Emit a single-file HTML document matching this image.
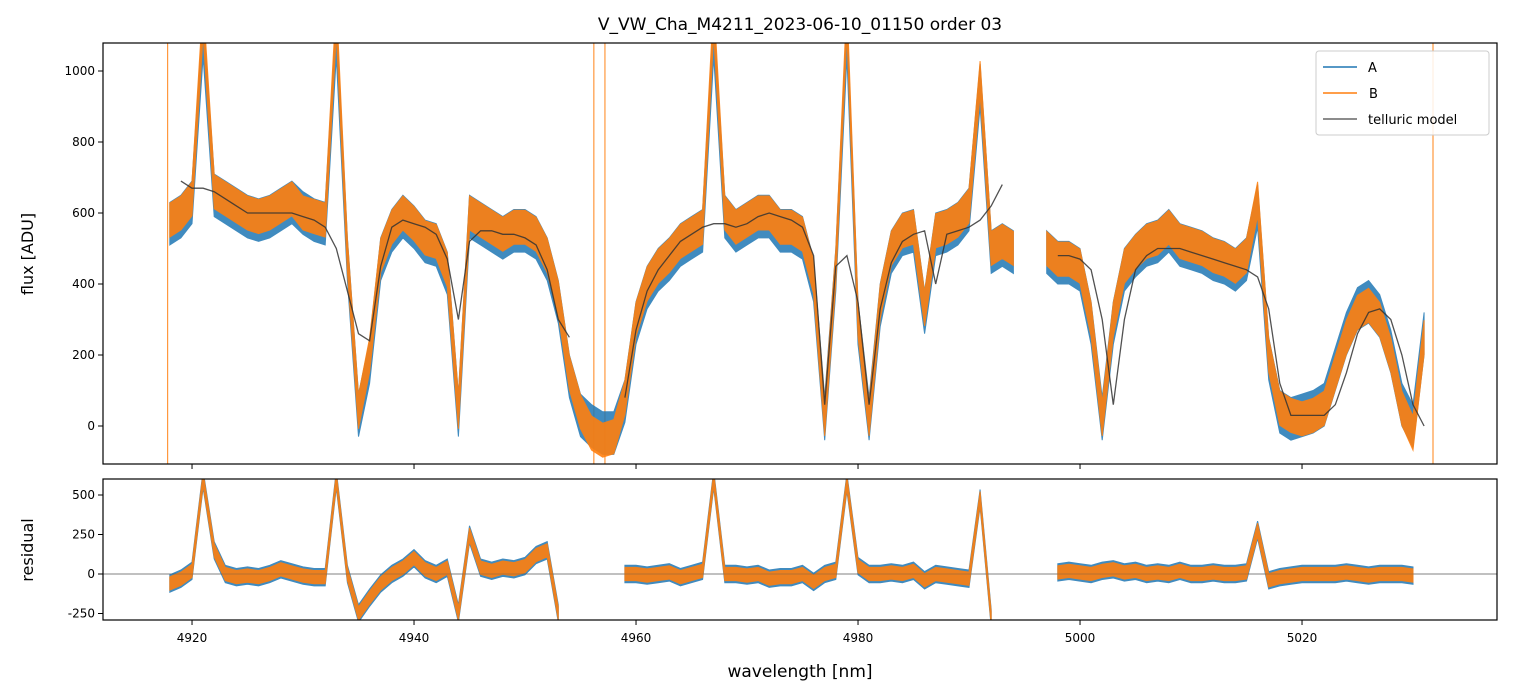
<!DOCTYPE html>
<html><head><meta charset="utf-8">
<style>
body{margin:0;background:#fff;}
svg{display:block;font-family:"DejaVu Sans","Liberation Sans",sans-serif;}
</style></head>
<body>
<svg id="chart" width="1513" height="696" viewBox="0 0 1513 696" xmlns="http://www.w3.org/2000/svg">
<defs>
<clipPath id="ctop"><rect x="103" y="43" width="1394" height="421"/></clipPath>
<clipPath id="cbot"><rect x="103" y="479" width="1394" height="141"/></clipPath>
</defs>
<rect width="1513" height="696" fill="#fff"/>
<text x="800" y="30" font-size="17" text-anchor="middle">V_VW_Cha_M4211_2023-06-10_01150  order 03</text>
<g id="topPanel" clip-path="url(#ctop)"></g>
<g id="botPanel" clip-path="url(#cbot)"></g>
<rect x="103" y="43" width="1394" height="421" fill="none" stroke="#000" stroke-width="1.2"/>
<rect x="103" y="479" width="1394" height="141" fill="none" stroke="#000" stroke-width="1.2"/>
<g id="axesG"></g>
<text x="0" y="0" font-size="16" text-anchor="middle" transform="translate(33,254) rotate(-90)">flux [ADU]</text>
<text x="0" y="0" font-size="16" text-anchor="middle" transform="translate(33,550) rotate(-90)">residual</text>
<text x="800" y="677" font-size="17" text-anchor="middle">wavelength [nm]</text>
<g>
<rect x="1316" y="51" width="173" height="84" rx="3" fill="#fff" fill-opacity="0.85" stroke="#ccc"/>
<line x1="1323" y1="67" x2="1357" y2="67" stroke="#1f77b4" stroke-width="1.6"/>
<text x="1368" y="72" font-size="13">A</text>
<line x1="1323" y1="93" x2="1357" y2="93" stroke="#ff7f0e" stroke-width="1.6"/>
<text x="1369" y="98" font-size="13">B</text>
<line x1="1323" y1="119" x2="1357" y2="119" stroke="#666" stroke-width="1.6"/>
<text x="1368" y="124" font-size="13">telluric model</text>
</g>
</svg>
<script>
const wl0 = 4918;
const fluxB = [580,600,640,1150,660,640,620,600,590,600,620,640,600,590,580,1150,480,40,200,480,560,600,570,530,520,440,40,600,580,560,540,560,560,540,480,360,150,40,-20,-40,-30,80,300,400,450,480,520,540,560,1150,600,560,580,600,600,560,560,540,420,20,450,1150,300,20,350,500,550,560,330,550,560,580,620,980,500,520,500,null,null,500,470,470,450,300,20,300,450,490,520,530,560,520,510,500,480,470,450,480,640,200,50,30,20,30,50,150,250,320,340,300,200,50,-20,250];
const fluxA = [570,590,630,1100,650,630,610,590,580,590,610,630,600,580,570,1100,470,30,180,470,550,590,560,520,510,430,30,590,570,550,530,550,550,530,470,350,140,30,0,-20,-20,70,290,390,440,470,510,530,550,1100,590,550,570,590,590,550,550,530,410,20,440,1100,290,20,340,490,540,550,320,540,550,570,610,960,490,510,490,null,null,490,460,460,440,290,20,290,440,480,510,520,550,510,500,490,470,460,440,470,620,190,40,20,30,40,60,160,260,330,350,310,210,60,0,260];
const model = [null,690,670,670,660,640,620,600,600,600,600,600,590,580,560,500,380,260,240,450,560,580,570,560,540,470,300,520,550,550,540,540,530,510,440,300,250,null,null,null,null,80,270,380,440,480,520,540,560,570,570,560,570,590,600,590,580,560,480,60,450,480,350,60,330,460,520,540,550,400,540,550,560,580,620,680,null,null,null,null,480,480,470,440,300,60,300,440,480,500,500,500,490,480,470,460,450,440,420,330,120,30,30,30,30,60,150,260,320,330,300,200,60,0,null];
const resid = [-60,-30,20,600,150,0,-20,-10,-20,0,30,10,-10,-20,-20,600,0,-250,-150,-60,0,40,100,30,0,40,-250,250,40,20,40,30,50,120,150,-250,null,null,null,null,null,0,0,-10,0,10,-20,0,20,600,0,0,-10,0,-30,-20,-20,0,-50,0,20,580,50,0,0,10,0,20,-40,0,-10,-20,-30,480,-280,null,null,null,null,null,10,20,10,0,20,30,10,20,0,10,0,20,0,0,10,0,0,10,280,-40,-20,-10,0,0,0,0,10,0,-10,0,0,0,-10,null];
const spikeWl = [4917.8, 4956.2, 4957.2, 5031.8];
const xTicks = [4920,4940,4960,4980,5000,5020];
const yTicksTop = [0,200,400,600,800,1000];
const yTicksBot = [-250,0,250,500];

const X = w => 103 + (w - 4911.98) * 11.1;
const YT = v => 426 - v * 0.355;
const YB = v => 574 - v * 0.158;
const NS = 'http://www.w3.org/2000/svg';
function mk(tag, attrs, parent){ const e=document.createElementNS(NS,tag); for(const k in attrs) e.setAttribute(k,attrs[k]); parent.appendChild(e); return e; }
function pathFrom(arr, Y){ let d='', pen=false; arr.forEach((v,i)=>{ if(v===null){pen=false;return;} d+=(pen?'L':'M')+X(wl0+i).toFixed(1)+' '+Y(v).toFixed(1)+' '; pen=true; }); return d; }
function bandFrom(arr, Y, h){
  let d='', seg=[];
  const flush=()=>{ if(seg.length>1){ d+='M'; seg.forEach(([i,v],k)=>{ d+=(k?'L':'')+X(wl0+i).toFixed(1)+' '+Y(v+h).toFixed(1)+' '; }); for(let k=seg.length-1;k>=0;k--){ const [i,v]=seg[k]; d+='L'+X(wl0+i).toFixed(1)+' '+Y(v-h).toFixed(1)+' '; } d+='Z '; } seg=[]; };
  arr.forEach((v,i)=>{ if(v===null){flush();} else seg.push([i,v]); }); flush(); return d;
}

const topG = document.getElementById('topPanel'), botG = document.getElementById('botPanel'), axesG = document.getElementById('axesG');
spikeWl.forEach(w=>{
  const s = mk('line',{x1:X(w),x2:X(w),y1:43,y2:464,stroke:'#ff7f0e','stroke-width':1.2,opacity:0.8},topG);
  
  
});
let p = mk('path',{d:bandFrom(fluxA,YT,60),fill:'#1f77b4',stroke:'#1f77b4','stroke-width':1,opacity:0.85},topG);


p = mk('path',{d:bandFrom(fluxB,YT,48),fill:'#ff7f0e',stroke:'#ff7f0e','stroke-width':1,opacity:0.9},topG);


p = mk('path',{d:pathFrom(model,YT),fill:'none',stroke:'#333','stroke-width':1.3,opacity:0.85},topG);



let z = mk('line',{x1:103,x2:1497,y1:YB(0),y2:YB(0),stroke:'#777','stroke-width':0.8},botG);


p = mk('path',{d:bandFrom(resid,YB,55),fill:'#1f77b4',stroke:'#1f77b4','stroke-width':1,opacity:0.85},botG);


p = mk('path',{d:bandFrom(resid,YB,42),fill:'#ff7f0e',stroke:'#ff7f0e','stroke-width':1,opacity:0.9},botG);


mk('line',{x1:103,x2:1497,y1:YB(0),y2:YB(0),stroke:'#555','stroke-width':0.6,opacity:0.7},botG);

xTicks.forEach(t=>{
  mk('line',{x1:X(t),x2:X(t),y1:464,y2:469,stroke:'#000'},axesG);
  mk('line',{x1:X(t),x2:X(t),y1:620,y2:625,stroke:'#000'},axesG);
  const l = mk('text',{x:X(t),y:642,'font-size':12,'text-anchor':'middle'},axesG);
  l.textContent = t;
  
  
});
yTicksTop.forEach(t=>{
  mk('line',{x1:98,x2:103,y1:YT(t),y2:YT(t),stroke:'#000'},axesG);
  const l = mk('text',{x:95,y:YT(t)+4,'font-size':12,'text-anchor':'end'},axesG);
  l.textContent = t;
  
  
});
yTicksBot.forEach(t=>{
  mk('line',{x1:98,x2:103,y1:YB(t),y2:YB(t),stroke:'#000'},axesG);
  const l = mk('text',{x:95,y:YB(t)+4,'font-size':12,'text-anchor':'end'},axesG);
  l.textContent = t;
  
  
});
</script>
</body></html>
